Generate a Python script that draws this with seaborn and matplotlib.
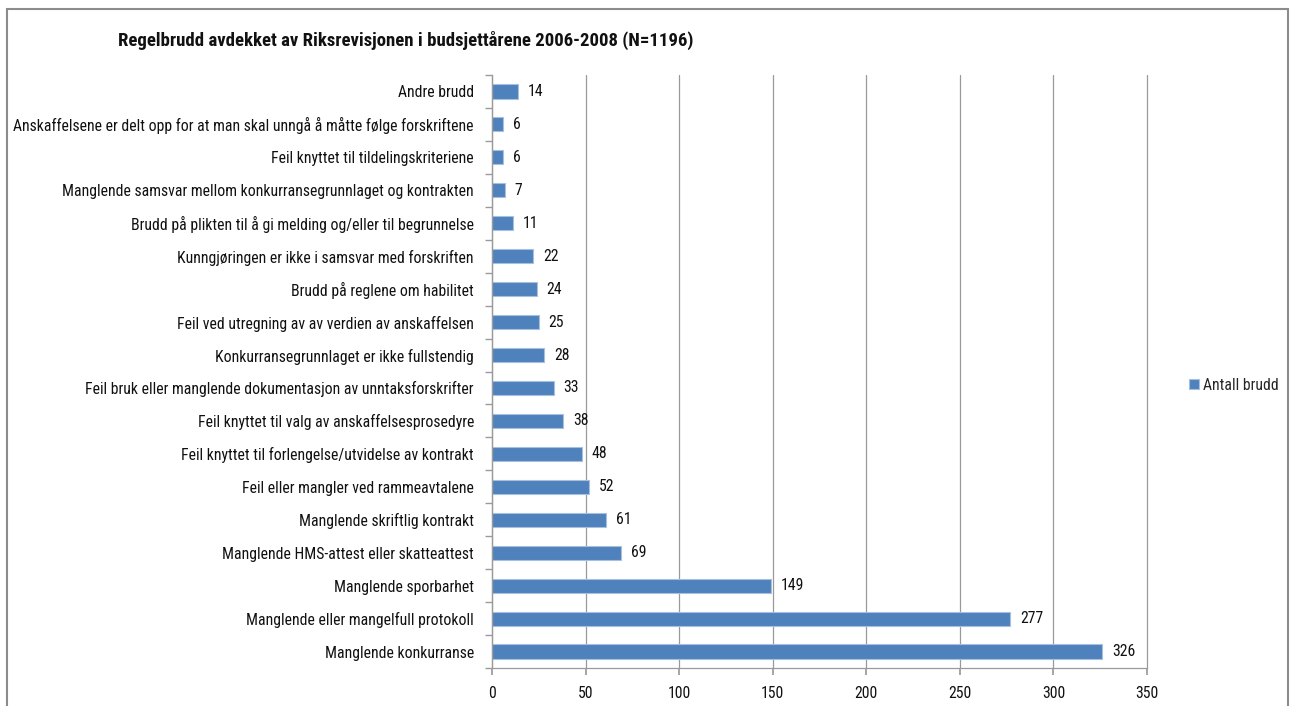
import matplotlib
matplotlib.use("Agg")
import matplotlib.pyplot as plt
from matplotlib import font_manager
from matplotlib.patches import Rectangle
import seaborn as sns
import pandas as pd

categories = [
    "Andre brudd",
    "Anskaffelsene er delt opp for at man skal unngå å måtte følge forskriftene",
    "Feil knyttet til tildelingskriteriene",
    "Manglende samsvar mellom konkurransegrunnlaget og kontrakten",
    "Brudd på plikten til å gi melding og/eller til begrunnelse",
    "Kunngjøringen er ikke i samsvar med forskriften",
    "Brudd på reglene om habilitet",
    "Feil ved utregning av av verdien av anskaffelsen",
    "Konkurransegrunnlaget er ikke fullstendig",
    "Feil bruk eller manglende dokumentasjon av unntaksforskrifter",
    "Feil knyttet til valg av anskaffelsesprosedyre",
    "Feil knyttet til forlengelse/utvidelse av kontrakt",
    "Feil eller mangler ved rammeavtalene",
    "Manglende skriftlig kontrakt",
    "Manglende HMS-attest eller skatteattest",
    "Manglende sporbarhet",
    "Manglende eller mangelfull protokoll",
    "Manglende konkurranse",
]
values = [14, 6, 6, 7, 11, 22, 24, 25, 28, 33, 38, 48, 52, 61, 69, 149, 277, 326]
x_ticks = [0, 50, 100, 150, 200, 250, 300, 350]
title = "Regelbrudd avdekket av Riksrevisjonen i budsjettårene 2006-2008 (N=1196)"
series_name = "Antall brudd"

sns.set_theme(style="white")
available = {f.name for f in font_manager.fontManager.ttflist}
fam = []
for f in ["Liberation Sans Narrow", "Roboto Condensed", "DejaVu Sans Condensed", "Liberation Sans", "DejaVu Sans"]:
    if f in available:
        fam.append(f)
plt.rcParams["font.family"] = fam + ["DejaVu Sans"]

df = pd.DataFrame({"kategori": categories, "antall": values})

fig = plt.figure(figsize=(12.92, 7.06), dpi=100)
ax = fig.add_axes([492 / 1292, 1 - 668 / 706, (1147 - 492) / 1292, (668 - 75) / 706])

bar_color = "#4F81BD"
sns.barplot(data=df, y="kategori", x="antall", orient="h", color=bar_color,
            width=0.43, ax=ax, saturation=1, edgecolor="#A7C0DE", linewidth=0.8,
            label=series_name)

fs = 11.3
ax.set_xlim(0, 350)
ax.set_xticks(x_ticks)
ax.set_xticklabels([str(t) for t in x_ticks], fontsize=fs, color="#111111")
ax.set_ylim(len(categories) - 0.5, -0.5)
ax.set_yticks(range(len(categories)))
ax.set_yticklabels(categories, fontsize=fs, color="#111111")
ax.set_xlabel("")
ax.set_ylabel("")

ax.grid(axis="x", color="#9A9A9A", linewidth=0.9)
ax.set_axisbelow(True)
for line in ax.get_xgridlines():
    line.set_clip_on(False)
for s in ["top", "right"]:
    ax.spines[s].set_visible(False)
for s in ["left", "bottom"]:
    ax.spines[s].set_color("#9A9A9A")
    ax.spines[s].set_linewidth(0.9)

ax.tick_params(axis="x", length=5, color="#9A9A9A", pad=8, direction="out", bottom=True)
ax.tick_params(axis="y", length=0, pad=13)
ax.set_yticks([i - 0.5 for i in range(len(categories) + 1)], minor=True)
ax.tick_params(axis="y", which="minor", length=5, color="#9A9A9A", direction="out", left=True)

for i, v in enumerate(values):
    ax.annotate(str(v), xy=(v, i), xytext=(7, 0), textcoords="offset points",
                va="center", ha="left", fontsize=fs, color="#111111")

leg = ax.legend(loc="center left", bbox_to_anchor=(1175 / 1292, 1 - 385 / 706),
                bbox_transform=fig.transFigure, frameon=False, fontsize=fs,
                handlelength=0.6, handleheight=0.6, handletextpad=0.3)

fig.text(118 / 1292, 1 - 40 / 706, title, fontsize=13.5, fontweight="bold",
         ha="left", va="center", color="#111111")

fig.patches.append(Rectangle((7 / 1292, -0.05), (1288 - 7) / 1292, 1.05 - 9 / 706,
                             transform=fig.transFigure, fill=False,
                             edgecolor="#8C8C8C", linewidth=1.5))

fig.savefig("out.png", dpi=100, facecolor="white")
